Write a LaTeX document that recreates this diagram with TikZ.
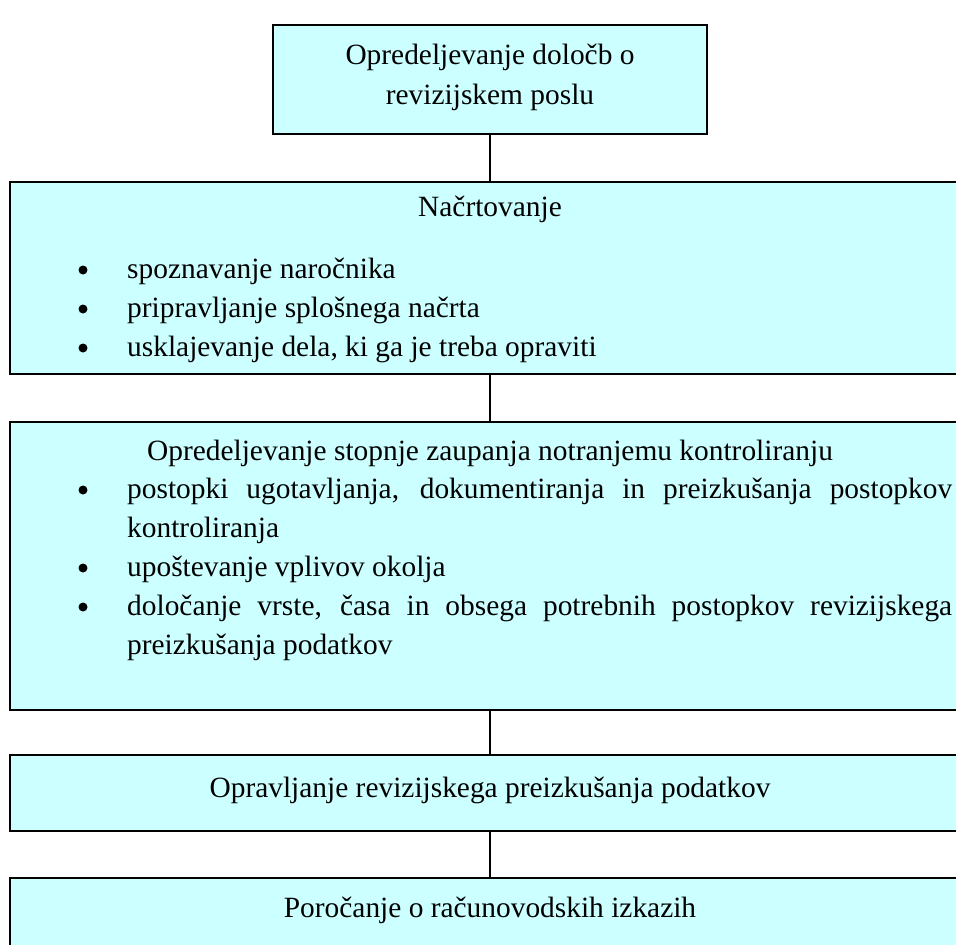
\documentclass[tikz,border=0pt]{standalone}
\usepackage{fontspec}
\setmainfont{Liberation Serif}
\definecolor{boxfill}{HTML}{CCFFFF}
\tikzset{
  stage/.style={draw=black, line width=2pt, fill=boxfill, rectangle, inner sep=0pt},
  txt/.style={inner sep=0pt, anchor=base, font=\fontsize{29.4}{39}\selectfont},
  itemtxt/.style={txt, anchor=base west, text width=825pt, align=justify},
  dot/.style={circle, fill=black, inner sep=0pt, minimum size=9pt},
  link/.style={line width=1.6pt}
}
\begin{document}
\begin{tikzpicture}[x=1pt, y=-1pt]
  \useasboundingbox (0,0) rectangle (956,945);
  \clip (0,0) rectangle (956,945);

  % stage boxes
  \node[stage, minimum width=434pt, minimum height=109pt] (b1) at (490,79.5) {};
  \node[stage, minimum width=961pt, minimum height=192pt] (b2) at (490,278) {};
  \node[stage, minimum width=961pt, minimum height=288pt] (b3) at (490,566) {};
  \node[stage, minimum width=961pt, minimum height=76pt]  (b4) at (490,793) {};
  \node[stage, minimum width=961pt, minimum height=90pt]  (b5) at (490,923) {};

  % connectors
  \draw[link] (b1.south) -- (b2.north);
  \draw[link] (b2.south) -- (b3.north);
  \draw[link] (b3.south) -- (b4.north);
  \draw[link] (b4.south) -- (b5.north);

  % box 1
  \node[txt] (t1a) at (490,64) {Opredeljevanje določb o};
  \node[txt] (t1b) at (490,104) {revizijskem poslu};

  % box 2
  \node[txt] (t2) at (490,216) {Načrtovanje};
  \node[dot] (d2a) at (83,270) {};
  \node[dot] (d2b) at (83,309) {};
  \node[dot] (d2c) at (83,348) {};
  \node[itemtxt] (i2a) at (127,278) {spoznavanje naročnika};
  \node[itemtxt] (i2b) at (127,317) {pripravljanje splošnega načrta};
  \node[itemtxt] (i2c) at (127,356) {usklajevanje dela, ki ga je treba opraviti};

  % box 3
  \node[txt] (t3) at (490,460) {Opredeljevanje stopnje zaupanja notranjemu kontroliranju};
  \node[dot] (d3a) at (83,490) {};
  \node[dot] (d3b) at (83,568) {};
  \node[dot] (d3c) at (83,607) {};
  \node[itemtxt] (i3a) at (127,498) {postopki ugotavljanja, dokumentiranja in preizkušanja postopkov\linebreak kontroliranja};
  \node[itemtxt] (i3b) at (127,576) {upoštevanje vplivov okolja};
  \node[itemtxt] (i3c) at (127,615) {določanje vrste, časa in obsega potrebnih postopkov revizijskega\linebreak preizkušanja podatkov};

  % box 4 and 5
  \node[txt] (t4) at (490,797) {Opravljanje revizijskega preizkušanja podatkov};
  \node[txt] (t5) at (490,917) {Poročanje o računovodskih izkazih};
\end{tikzpicture}
\end{document}
